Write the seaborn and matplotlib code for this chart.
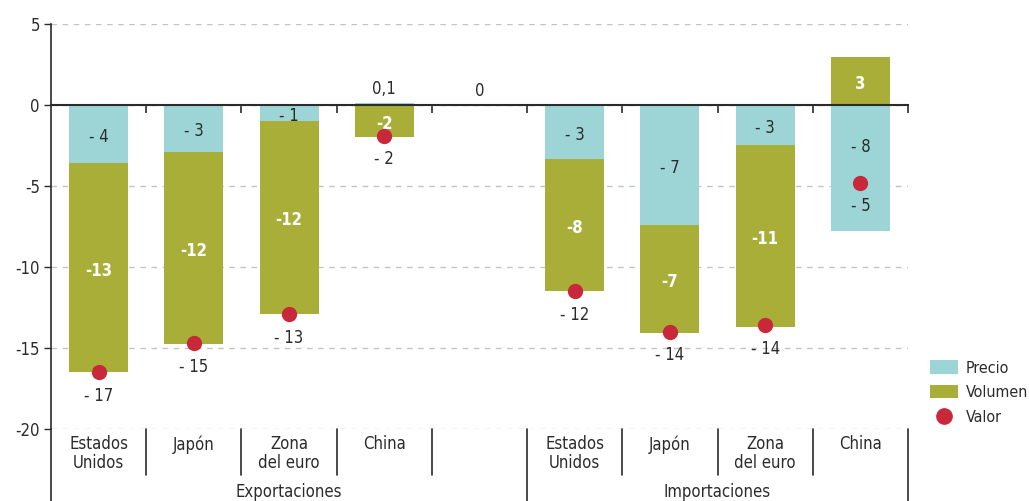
import numpy as np
import pandas as pd
import seaborn as sns
import matplotlib.pyplot as plt
from matplotlib.patches import Patch
from matplotlib.lines import Line2D

# slots along the axis (one empty slot between the two groups)
slots = ["exp_eeuu", "exp_jpn", "exp_eur", "exp_chn", "hueco",
         "imp_eeuu", "imp_jpn", "imp_eur", "imp_chn"]
cat_labels = ["Estados\nUnidos", "Japón", "Zona\ndel euro", "China", "",
              "Estados\nUnidos", "Japón", "Zona\ndel euro", "China"]
groups = ["Exportaciones", "Importaciones"]

precio = [-3.6, -2.9, -1.0, 0.1, 0.0, -3.35, -7.4, -2.5, -7.8]
volumen = [-12.9, -11.85, -11.9, -2.0, 0.0, -8.15, -6.7, -11.2, 2.95]
valor = [-16.5, -14.7, -12.9, -1.9, np.nan, -11.5, -14.0, -13.6, -4.8]

precio_lbl = ["- 4", "- 3", "- 1", "0,1", "0", "- 3", "- 7", "- 3", "- 8"]
volumen_lbl = ["-13", "-12", "-12", "-2", "", "-8", "-7", "-11", "3"]
valor_lbl = ["- 17", "- 15", "- 13", "- 2", "", "- 12", "- 14", "- 14", "- 5"]

c_pre = "#9dd5d6"
c_vol = "#a8ae37"
c_dot = "#c8283a"
c_txt = "#2b2b2b"

sns.set_theme(style="white")
plt.rcParams['font.family'] = ['DejaVu Sans']
plt.rcParams['font.stretch'] = 'condensed'

df = pd.DataFrame({"slot": slots, "precio": precio, "volumen": volumen, "valor": valor})
same = np.sign(df.precio) == np.sign(df.volumen)
df["fondo"] = np.where(same, df.precio + df.volumen, df.volumen)

fig = plt.figure(figsize=(10.29, 5.01), dpi=100)
ax = fig.add_axes([51 / 1029, 72 / 501, 857 / 1029, 405 / 501])

sns.barplot(data=df, x="slot", y="fondo", order=slots, color=c_vol, saturation=1,
            width=0.62, errorbar=None, linewidth=0, ax=ax, zorder=2)
sns.barplot(data=df, x="slot", y="precio", order=slots, color=c_pre, saturation=1,
            width=0.62, errorbar=None, linewidth=0, ax=ax, zorder=3)
sns.stripplot(data=df, x="slot", y="valor", order=slots, color=c_dot, size=11,
              jitter=False, linewidth=0, ax=ax, zorder=5)

ax.set_xlim(-0.5, 8.5)
ax.set_ylim(-20, 5)
ax.set_xlabel("")
ax.set_ylabel("")
ax.set_yticks([5, 0, -5, -10, -15, -20])
ax.set_yticklabels(["5", "0", "-5", "-10", "-15", "-20"])
ax.tick_params(axis="y", direction="out", length=5, width=1, color=c_txt,
               labelsize=12, labelcolor=c_txt, left=True, pad=3)
ax.set_xticks(np.arange(0.5, 9, 1))
ax.set_xticklabels([])
ax.tick_params(axis="x", direction="out", length=6, width=1.2, color=c_txt, bottom=True)

ax.grid(axis="y", linestyle=(0, (4, 4)), color="#c4c4c4", linewidth=1)
ax.grid(axis="x", visible=False)
ax.set_axisbelow(True)
for s in ["top", "right"]:
    ax.spines[s].set_visible(False)
ax.spines["bottom"].set_position(("data", 0))
ax.spines["bottom"].set_color(c_txt)
ax.spines["bottom"].set_linewidth(1.5)
ax.spines["bottom"].set_zorder(4)
ax.spines["left"].set_color(c_txt)
ax.spines["left"].set_linewidth(1.2)

# value labels
for i in range(len(slots)):
    p, v, t = precio[i], volumen[i], valor[i]
    if p >= 0 and precio_lbl[i]:
        ax.annotate(precio_lbl[i], (i, p), xytext=(0, 10), textcoords="offset points",
                    ha="center", va="center", fontsize=12, color=c_txt)
    else:
        y = p / 2
        if not np.isnan(t) and p < t < 0:
            y = t / 2
        ax.annotate(precio_lbl[i], (i, y), xytext=(0, -2), textcoords="offset points",
                    ha="center", va="center", fontsize=12, color=c_txt)
    if volumen_lbl[i]:
        y = (p + df.fondo[i]) / 2 if same[i] else v / 2
        ax.annotate(volumen_lbl[i], (i, y), xytext=(0, -2), textcoords="offset points",
                    ha="center", va="center", fontsize=12, color="white", fontweight="bold")
    if valor_lbl[i]:
        ax.annotate(valor_lbl[i], (i, t), xytext=(0, -17), textcoords="offset points",
                    ha="center", va="center", fontsize=12, color=c_txt)

# category area below the plot
tr = ax.get_xaxis_transform()
for i, lab in enumerate(cat_labels):
    ax.text(i, -0.016, lab, transform=tr, ha="center", va="top", fontsize=12,
            color=c_txt, linespacing=1.05)
for xb in [0.5, 1.5, 2.5, 3.5, 5.5, 6.5, 7.5]:
    ax.add_line(Line2D([xb, xb], [0, -0.114], transform=tr, color=c_txt, lw=1.2, clip_on=False))
for xb in [-0.5, 4.5, 8.5]:
    ax.add_line(Line2D([xb, xb], [0, -0.2], transform=tr, color=c_txt, lw=1.2, clip_on=False))
ax.text(2.0, -0.156, groups[0], transform=tr, ha="center", va="center", fontsize=12, color=c_txt)
ax.text(6.5, -0.156, groups[1], transform=tr, ha="center", va="center", fontsize=12, color=c_txt)

handles = [Patch(facecolor=c_pre, edgecolor="none"),
           Patch(facecolor=c_vol, edgecolor="none"),
           Line2D([], [], marker="o", ls="", color=c_dot, markersize=11)]
fig.legend(handles, ["Precio", "Volumen", "Valor"], loc="upper left",
           bbox_to_anchor=(916 / 1029, 1 - 346 / 501), frameon=False, fontsize=11.5,
           handlelength=1.75, handleheight=0.9, labelspacing=0.6, handletextpad=0.45,
           labelcolor=c_txt)

fig.savefig("out.png", dpi=100)
